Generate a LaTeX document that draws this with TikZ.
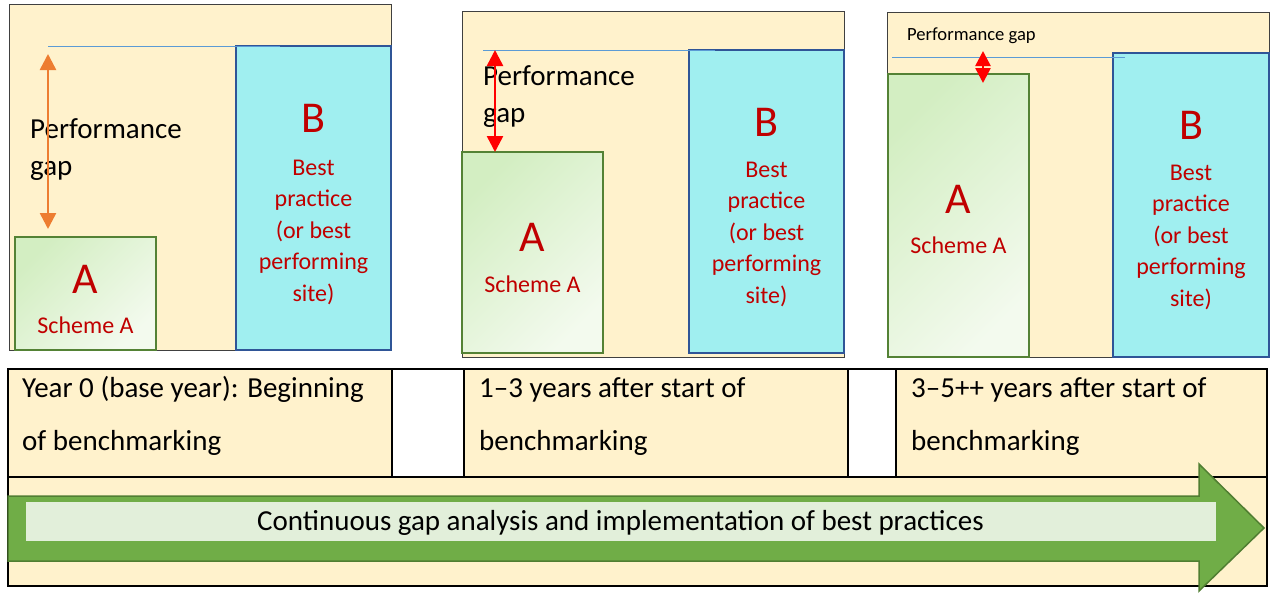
\documentclass[tikz,border=0pt]{standalone}
\usepackage{fontspec}
\setmainfont{Carlito}
\usetikzlibrary{arrows.meta}

\definecolor{panelbg}{HTML}{FFF2CC}
\definecolor{panelline}{HTML}{404040}
\definecolor{aborder}{HTML}{548235}
\definecolor{agreenA}{HTML}{D3EEC2}
\definecolor{agreenB}{HTML}{F3FAEE}
\definecolor{bborder}{HTML}{2F5597}
\definecolor{bcyan}{HTML}{A0EFF0}
\definecolor{schemered}{HTML}{C00000}
\definecolor{levelblue}{HTML}{5B9BD5}
\definecolor{gaporange}{HTML}{ED7D31}
\definecolor{gapred}{HTML}{FF0000}
\definecolor{arrowgreen}{HTML}{70AD47}
\definecolor{arrowedge}{HTML}{507E32}
\definecolor{bandfill}{HTML}{E2EFDA}

\begin{document}
\begin{tikzpicture}[x=1pt,y=-1pt,
  panel/.style={draw=panelline, line width=1pt, fill=panelbg, inner sep=0pt, outer sep=0pt, anchor=north west},
  abox/.style={draw=aborder, line width=2.5pt, top color=agreenA, bottom color=agreenB, shading angle=45, inner sep=0pt, outer sep=0pt, anchor=north west},
  bbox/.style={draw=bborder, line width=2.5pt, fill=bcyan, inner sep=0pt, outer sep=0pt, anchor=north west},
  bigletter/.style={text=schemered, font=\fontsize{44}{44}\selectfont, inner sep=0pt, anchor=base},
  redtext/.style={text=schemered, font=\fontsize{24}{31.5}\selectfont, align=center, inner sep=0pt, anchor=base},
  gaptext/.style={font=\fontsize{29}{37}\selectfont, align=left, inner sep=0pt, anchor=base west},
  smallgap/.style={font=\fontsize{18.6}{18.6}\selectfont, inner sep=0pt, anchor=base west},
  celltext/.style={font=\fontsize{29}{29}\selectfont, inner sep=0pt, anchor=base west},
  levelline/.style={draw=levelblue, line width=1pt},
  gaparrow/.style={line width=2.5pt, {Triangle[length=16pt,width=16pt]}-{Triangle[length=16pt,width=16pt]}},
  rule/.style={draw=black, line width=1.5pt}
]
\useasboundingbox (0,0) rectangle (1271,592);
\fill[white] (0,0) rectangle (1271,592);

% ---------- stage 1: base year ----------
% (multi-line nodes are placed by the baseline of their last line)
\node[panel, minimum width=382pt, minimum height=346pt] (p1) at (9,4) {};
\node[abox, minimum width=141pt, minimum height=113pt] (a1) at (15,237) {};
\node[bbox, minimum width=155pt, minimum height=304pt] (b1) at (236,46) {};
\coordinate (lv1s) at (48,46);
\coordinate (lv1e) at (280,46);
\draw[levelline] (lv1s) -- (lv1e);
\node[gaptext] (g1) at (30,175) {Performance\\gap};
\coordinate (g1top) at (48,54);
\coordinate (g1bot) at (48,229);
\draw[gaparrow, draw=gaporange, fill=gaporange] (g1top) -- (g1bot);
\node[bigletter] (a1l) at (85.5,293) {A};
\node[redtext] (a1t) at (85.5,333) {Scheme A};
\node[bigletter] (b1l) at (313.5,132) {B};
\node[redtext] (b1t) at (313.5,301) {Best\\practice\\(or best\\performing\\site)};

% ---------- stage 2: 1-3 years ----------
\node[panel, minimum width=382pt, minimum height=346pt] (p2) at (462,11) {};
\node[abox, minimum width=141pt, minimum height=201pt] (a2) at (462,152) {};
\node[bbox, minimum width=155pt, minimum height=303pt] (b2) at (689,50) {};
\coordinate (lv2s) at (483,50);
\coordinate (lv2e) at (715,50);
\draw[levelline] (lv2s) -- (lv2e);
\node[gaptext] (g2) at (483,122) {Performance\\gap};
\coordinate (g2top) at (495,50);
\coordinate (g2bot) at (495,152);
\draw[gaparrow, draw=gapred, fill=gapred] (g2top) -- (g2bot);
\node[bigletter] (a2l) at (532.5,251) {A};
\node[redtext] (a2t) at (532.5,292) {Scheme A};
\node[bigletter] (b2l) at (766.5,136) {B};
\node[redtext] (b2t) at (766.5,303) {Best\\practice\\(or best\\performing\\site)};

% ---------- stage 3: 3-5++ years ----------
\node[panel, minimum width=382pt, minimum height=345pt] (p3) at (887,12) {};
\node[abox, minimum width=141pt, minimum height=283pt] (a3) at (888,74) {};
\node[bbox, minimum width=156pt, minimum height=304pt] (b3) at (1113,53) {};
\coordinate (lv3s) at (892,57);
\coordinate (lv3e) at (1125,57);
\draw[levelline] (lv3s) -- (lv3e);
\node[smallgap] (g3) at (907,40) {Performance gap};
\coordinate (g3top) at (983,51);
\coordinate (g3bot) at (983,83);
\draw[line width=2.5pt, draw=gapred, fill=gapred,
  {Triangle[length=15pt,width=15pt]}-{Triangle[length=15pt,width=15pt]}] (g3top) -- (g3bot);
\node[bigletter] (a3l) at (958.5,213) {A};
\node[redtext] (a3t) at (958.5,253) {Scheme A};
\node[bigletter] (b3l) at (1191,139) {B};
\node[redtext] (b3t) at (1191,306) {Best\\practice\\(or best\\performing\\site)};

% ---------- timeline table ----------
\fill[panelbg] (8,369) rectangle (1267,586);
\fill[white] (392,369) rectangle (464,477);
\fill[white] (848,369) rectangle (896,477);
\draw[rule] (8,369) rectangle (1267,586);
\draw[rule] (8,477) -- (1267,477);
\draw[rule] (392,369) -- (392,477);
\draw[rule] (464,369) -- (464,477);
\draw[rule] (848,369) -- (848,477);
\draw[rule] (896,369) -- (896,477);
\node[celltext] (c1a) at (22,397) {Year 0 (base year): Beginning};
\node[celltext] (c1b) at (22,450) {of benchmarking};
\node[celltext] (c2a) at (479,397) {1–3 years after start of};
\node[celltext] (c2b) at (479,450) {benchmarking};
\node[celltext] (c3a) at (911,397) {3–5++ years after start of};
\node[celltext] (c3b) at (911,450) {benchmarking};

% ---------- continuous improvement arrow ----------
\draw[fill=arrowgreen, draw=arrowedge, line width=1.5pt, line join=miter]
  (8,496) -- (1199,496) -- (1199,464) -- (1264,528) -- (1199,591) -- (1199,561) -- (8,561) -- cycle;
\fill[bandfill] (26,502) rectangle (1216,541);
\node[celltext, anchor=base] (band) at (620.5,530) {Continuous gap analysis and implementation of best practices};
\end{tikzpicture}
\end{document}
